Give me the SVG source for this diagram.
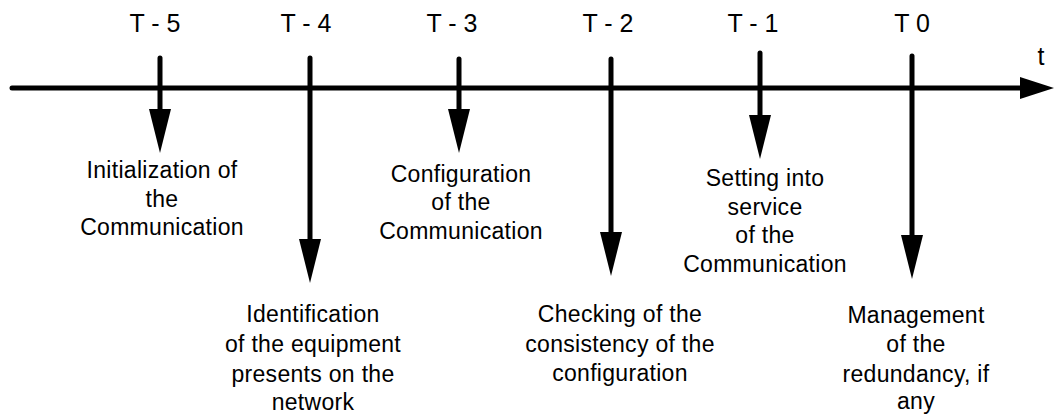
<svg xmlns="http://www.w3.org/2000/svg" width="1056" height="417" viewBox="0 0 1056 417">
  <defs>
    <marker id="head" viewBox="0 0 44 22" refX="0" refY="11" markerWidth="44" markerHeight="22" markerUnits="userSpaceOnUse" orient="auto">
      <path d="M0,0 L44,11 L0,22 Z" fill="#000"/>
    </marker>
    <marker id="timeHead" viewBox="0 0 34 22" refX="0" refY="11" markerWidth="34" markerHeight="22" markerUnits="userSpaceOnUse" orient="auto">
      <path d="M0,0 L34,11 L0,22 Z" fill="#000"/>
    </marker>
    <style>
      .axis { stroke: #000; stroke-width: 5; stroke-linecap: round; fill: none; }
      .step { stroke: #000; stroke-width: 5; stroke-linecap: round; fill: none; marker-end: url(#head); }
      .tick { font-family: "Liberation Sans", Arial, sans-serif; font-size: 25px; fill: #000; text-anchor: middle; }
      .desc { font-family: "Liberation Sans", Arial, sans-serif; font-size: 23px; fill: #000; text-anchor: middle; letter-spacing: 0.3px; }
    </style>
  </defs>
  <rect width="1056" height="417" fill="#fff"/>

  <!-- time axis and step arrows -->
  <g id="connectors">
    <line class="axis" x1="12" y1="88" x2="1020" y2="88" marker-end="url(#timeHead)"/>
    <line class="step" x1="160" y1="58" x2="160" y2="109"/>
    <line class="step" x1="310" y1="58" x2="310" y2="239"/>
    <line class="step" x1="459" y1="59" x2="459" y2="109"/>
    <line class="step" x1="611" y1="59" x2="611" y2="232"/>
    <line class="step" x1="760" y1="53" x2="760" y2="115"/>
    <line class="step" x1="912" y1="56" x2="912" y2="235"/>
  </g>

  <text class="tick" x="1041" y="65">t</text>

  <g id="step-t5">
    <text class="tick" x="155" y="32">T - 5</text>
    <text class="desc" x="162" y="178">Initialization of</text>
    <text class="desc" x="162" y="207">the</text>
    <text class="desc" x="162" y="235">Communication</text>
  </g>

  <g id="step-t4">
    <text class="tick" x="306" y="32">T - 4</text>
    <text class="desc" x="313" y="322">Identification</text>
    <text class="desc" x="313" y="352">of the equipment</text>
    <text class="desc" x="313" y="382">presents on the</text>
    <text class="desc" x="313" y="410">network</text>
  </g>

  <g id="step-t3">
    <text class="tick" x="452" y="32">T - 3</text>
    <text class="desc" x="461" y="182">Configuration</text>
    <text class="desc" x="461" y="210">of the</text>
    <text class="desc" x="461" y="239">Communication</text>
  </g>

  <g id="step-t2">
    <text class="tick" x="608" y="32">T - 2</text>
    <text class="desc" x="620" y="322">Checking of the</text>
    <text class="desc" x="620" y="352">consistency of the</text>
    <text class="desc" x="620" y="381">configuration</text>
  </g>

  <g id="step-t1">
    <text class="tick" x="753" y="32">T - 1</text>
    <text class="desc" x="765" y="186">Setting into</text>
    <text class="desc" x="765" y="215">service</text>
    <text class="desc" x="765" y="243">of the</text>
    <text class="desc" x="765" y="272">Communication</text>
  </g>

  <g id="step-t0">
    <text class="tick" x="912" y="32">T 0</text>
    <text class="desc" x="916" y="323">Management</text>
    <text class="desc" x="916" y="352">of the</text>
    <text class="desc" x="916" y="382">redundancy, if</text>
    <text class="desc" x="916" y="409">any</text>
  </g>
</svg>
